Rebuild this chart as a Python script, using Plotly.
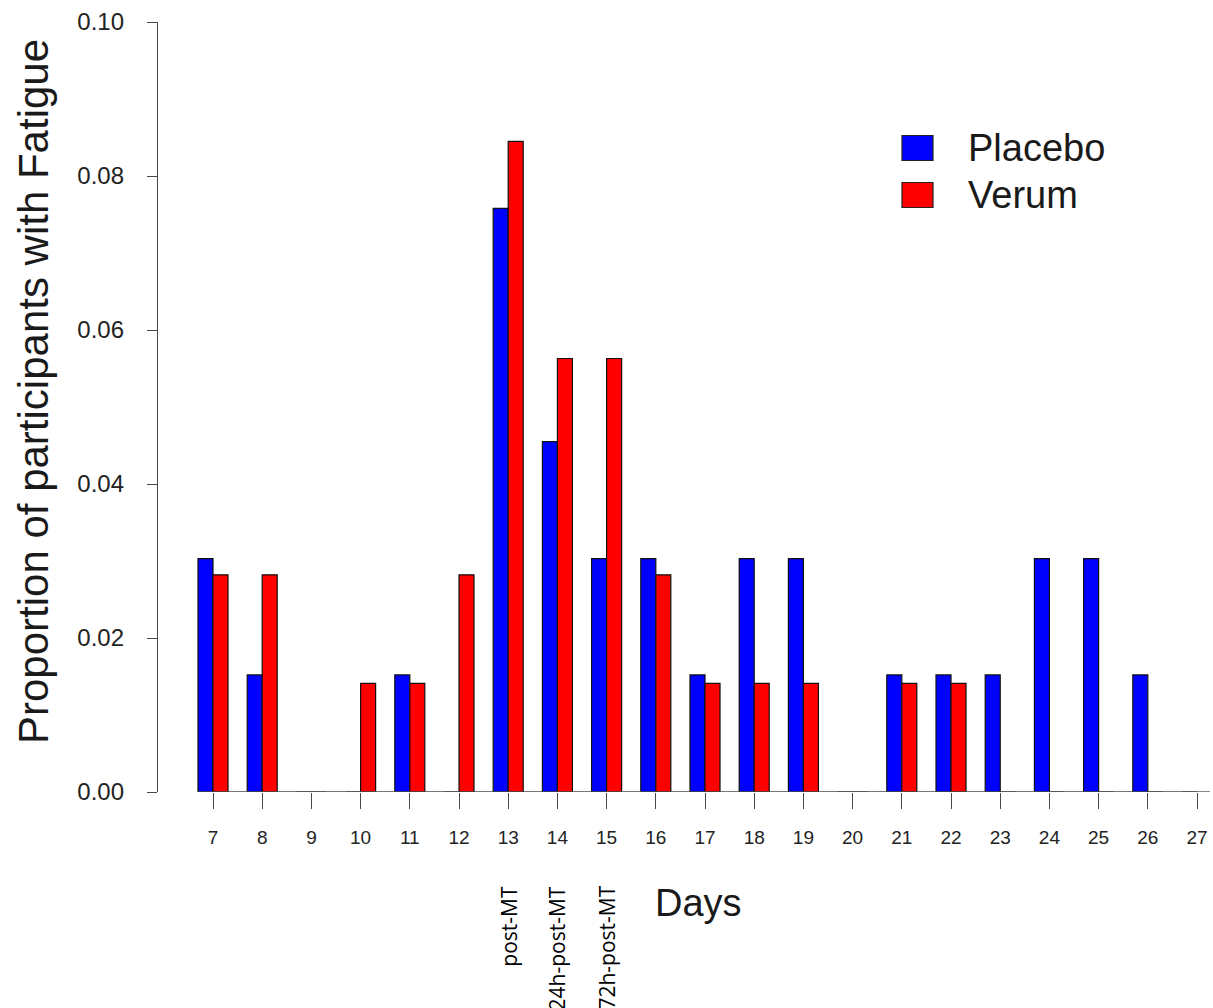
import plotly.graph_objects as go

# Daily proportion of participants reporting fatigue
days = list(range(7, 28))
placebo = [0.0303, 0.0152, 0.0, 0.0, 0.0152, 0.0, 0.0758, 0.0455, 0.0303, 0.0303, 0.0152,
           0.0303, 0.0303, 0.0, 0.0152, 0.0152, 0.0152, 0.0303, 0.0303, 0.0152, 0.0]
verum = [0.0282, 0.0282, 0.0, 0.0141, 0.0141, 0.0282, 0.0845, 0.0563, 0.0563, 0.0282, 0.0141,
         0.0141, 0.0141, 0.0, 0.0141, 0.0141, 0.0, 0.0, 0.0, 0.0, 0.0]
series_names = ["Placebo", "Verum"]
series_colors = ["#0000FF", "#FF0000"]
y_ticks = [0.0, 0.02, 0.04, 0.06, 0.08, 0.10]
phase_days = [13, 14, 15]
phase_labels = ["post-MT", "24h-post-MT", "72h-post-MT"]

W, H = 1213, 1008
L, R, T, B = 158, 3, 22, 216
PW, PH = W - L - R, H - T - B

def px(x):
    return (x - L) / PW

def py(y):
    return (H - B - y) / PH

FONT = "Arial, Liberation Sans, sans-serif"
INK = "#1a1a1a"
AXIS = "#4a4a4a"

fig = go.Figure()
for name, vals, col in zip(series_names, [placebo, verum], series_colors):
    fig.add_trace(go.Bar(
        x=days, y=vals, name=name,
        marker=dict(color=col, line=dict(color="#111111", width=1.2)),
        showlegend=False,
    ))

# baseline under the bars
fig.add_shape(type="line", xref="x", yref="y", x0=days[0] - 0.3, x1=days[-1], y0=0, y1=0,
              line=dict(color=AXIS, width=1.4))

annotations = []
# phase labels below the day ticks
for d, lab in zip(phase_days, phase_labels):
    annotations.append(dict(
        x=d, xref="x", y=0, yref="paper", yshift=-(884 - 792), text=lab,
        textangle=-90, showarrow=False, xanchor="center", yanchor="top",
        font=dict(family="Open Sans, Noto Sans, sans-serif", size=21, color="#000000"),
    ))

# axis titles
annotations.append(dict(
    x=px(698), y=py(903), xref="paper", yref="paper", text="Days", showarrow=False,
    xanchor="center", yanchor="middle", font=dict(family=FONT, size=38, color=INK),
))
annotations.append(dict(
    x=px(33), y=py(392), xref="paper", yref="paper",
    text="Proportion of participants with Fatigue", textangle=-90, showarrow=False,
    xanchor="center", yanchor="middle", font=dict(family=FONT, size=42, color=INK),
))

# legend
shapes = []
legend_rows = [148, 195]
for name, col, cy in zip(series_names, series_colors, legend_rows):
    shapes.append(dict(type="rect", xref="paper", yref="paper",
                       x0=px(902), x1=px(933), y0=py(cy + 12.5), y1=py(cy - 12.5),
                       fillcolor=col, line=dict(color="#222222", width=1.2)))
    annotations.append(dict(
        x=px(966), y=py(cy), xref="paper", yref="paper", text=name, showarrow=False,
        xanchor="left", yanchor="middle", font=dict(family=FONT, size=38, color=INK),
    ))
for s in shapes:
    fig.add_shape(**s)

fig.update_layout(
    width=W, height=H,
    margin=dict(l=L, r=R, t=T, b=B, pad=0),
    plot_bgcolor="white", paper_bgcolor="white",
    barmode="group", bargap=0.39, bargroupgap=0.0,
    annotations=annotations,
    font=dict(family=FONT, color=INK),
)
fig.update_xaxes(
    range=[5.882, 27.264], tickmode="array", tickvals=days, ticktext=[str(d) for d in days],
    showline=False, showgrid=False, zeroline=False,
    ticks="outside", ticklen=16, tickwidth=1.4, tickcolor=AXIS,
    tickfont=dict(family=FONT, size=19, color="#222222"), ticklabelstandoff=12,
)
fig.update_yaxes(
    range=[0, 0.10], tickmode="array", tickvals=y_ticks, tickformat=".2f",
    showline=True, linecolor=AXIS, linewidth=1.4, showgrid=False, zeroline=False,
    ticks="outside", ticklen=10, tickwidth=1.4, tickcolor=AXIS,
    tickfont=dict(family=FONT, size=24, color="#222222"), ticklabelstandoff=18,
)

fig.write_html("out.html")
